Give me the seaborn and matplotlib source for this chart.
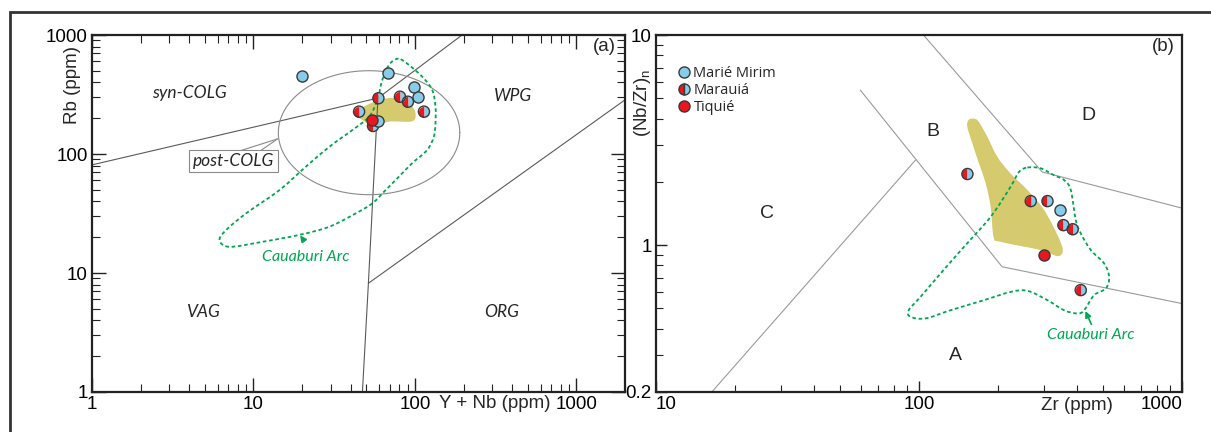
import numpy as np
import matplotlib
matplotlib.use("Agg")
import matplotlib.pyplot as plt
import seaborn as sns
from matplotlib.path import Path
from matplotlib.patches import PathPatch, Rectangle
from matplotlib.lines import Line2D
from matplotlib.ticker import FixedLocator, LogLocator, NullFormatter, FuncFormatter

# ---------------- Panel (a): Rb vs Y+Nb ----------------
a_marie_ynb = [20.0, 68.4, 98.6, 105.0, 59.4]
a_marie_rb = [455, 479, 366, 303, 190]
a_marauia_ynb = [59.4, 80.8, 90.5, 113.7, 45.1, 55.0]
a_marauia_rb = [294, 303, 275, 227, 227, 172]
a_tiquie_ynb = [54.0]
a_tiquie_rb = [193]

# Cauaburi Arc field (outline)
a_arc_ynb = [81.6, 91.8, 111, 128, 134, 134, 131, 119, 96, 79.6, 65.9, 54.5, 43.0, 29.5,
             19.2, 11.4, 7.1, 6.17, 6.78, 9.0, 14.5, 21.1, 29.5, 41.0, 52.0, 58.5, 62.8, 69.1, 76.0]
a_arc_rb = [625, 560, 446, 345, 250, 181, 140, 108, 83.5, 64.5, 49.8, 38.5, 31.7, 24.5,
            20.9, 18.3, 16.6, 18.9, 23.0, 31.7, 49.8, 78.2, 115, 159, 206, 284, 419, 560, 625]
# khaki reference field
a_field_ynb = [43.0, 46.2, 60, 76, 96.2, 101, 94, 69, 55.8, 47.3]
a_field_rb = [213, 242, 284, 294, 250, 206, 187, 187, 170, 193]

# discrimination boundaries
a_b1_ynb = [1, 59, 196]
a_b1_rb = [81, 295, 1000]
a_b2_ynb = [59, 51.5, 47.3]
a_b2_rb = [295, 8.2, 1]
a_b3_ynb = [51.5, 2000]
a_b3_rb = [8.2, 285]
post_colg_center = (52, 151)
post_colg_half_decades = (0.562, 0.521)
a_callout_ynb = [[8.2, 14.1], [11.0, 14.1]]
a_callout_rb = [[106, 134], [106, 134]]

a_labels = ["syn-COLG", "WPG", "VAG", "ORG"]
a_label_ynb = [4.03, 408, 4.84, 344]
a_label_rb = [326, 307, 4.73, 4.73]

# ---------------- Panel (b): (Nb/Zr)n vs Zr ----------------
b_marie_zr = [344]
b_marie_nbzr = [1.47]
b_marauia_zr = [152.8, 266, 308, 354, 384, 412]
b_marauia_nbzr = [2.18, 1.62, 1.62, 1.245, 1.19, 0.611]
b_tiquie_zr = [299]
b_tiquie_nbzr = [0.896]

b_arc_zr = [258.3, 290.4, 326.2, 356.1, 377.7, 394.6, 412.3, 450.1, 505.8, 528.4, 513.4, 463.4,
            424.5, 400.6, 356.1, 307.9, 258.3, 223.2, 176.6, 131.8, 105.9, 92.8, 91.4, 101.3,
            120.8, 148.2, 187.3, 223.2, 240.0]
b_arc_nbzr = [2.34, 2.32, 2.15, 2.04, 1.83, 1.315, 1.137, 0.947, 0.818, 0.706, 0.622, 0.578,
              0.490, 0.473, 0.490, 0.547, 0.606, 0.599, 0.547, 0.490, 0.448, 0.456, 0.490, 0.567,
              0.733, 0.981, 1.364, 1.90, 2.23]
b_field_zr = [152.6, 154.4, 161.3, 168.5, 181.9, 198.6, 223.2, 258.3, 298.8, 336.1, 352.1,
              337.0, 290.4, 204.4, 192.2, 187.3, 179.2, 169.0, 159.5]
b_field_nbzr = [3.66, 3.94, 4.00, 3.87, 3.28, 2.63, 2.19, 1.83, 1.47, 1.116, 0.947,
                0.886, 0.947, 1.037, 1.092, 1.52, 1.97, 2.45, 3.05]

b_l1_zr = [104, 294, 1000]
b_l1_nbzr = [10, 2.23, 1.50]
b_l2_zr = [59.8, 207, 1000]
b_l2_nbzr = [5.47, 0.789, 0.527]
b_l3_zr = [16.3, 97]
b_l3_nbzr = [0.2, 2.54]

b_labels = ["A", "B", "C", "D"]
b_label_zr = [137.7, 113.2, 26.4, 439.6]
b_label_nbzr = [0.299, 3.46, 1.42, 4.16]

legend_labels = ["Marié Mirim", "Marauiá", "Tiquié"]

# ---------------- style ----------------
BLUE = "#87cdea"
RED = "#e8161e"
EDGE = "#3a3a3a"
GREEN = "#00a651"
KHAKI = "#d5ca6e"
SPINE = "#222222"

sns.set_theme(style="ticks")
plt.rcParams["font.family"] = ["Liberation Sans", "DejaVu Sans"]
plt.rcParams["axes.edgecolor"] = SPINE
plt.rcParams["axes.linewidth"] = 1.6
plt.rcParams["xtick.color"] = SPINE
plt.rcParams["ytick.color"] = SPINE
plt.rcParams["xtick.labelcolor"] = "black"
plt.rcParams["ytick.labelcolor"] = "black"

fig = plt.figure(figsize=(12.11, 4.32), dpi=100)
W, H = 1211, 432
axA = fig.add_axes([92 / W, 40 / H, 533 / W, 357 / H])
axB = fig.add_axes([656 / W, 40 / H, 526 / W, 357 / H])

theta_l = np.linspace(np.pi / 2, 3 * np.pi / 2, 40)
LEFT_HALF = Path(np.vstack([np.column_stack([np.cos(theta_l), np.sin(theta_l)]), [[0, 1]]]), closed=True)
theta_r = np.linspace(-np.pi / 2, np.pi / 2, 40)
RIGHT_HALF = Path(np.vstack([np.column_stack([np.cos(theta_r), np.sin(theta_r)]), [[0, -1]]]), closed=True)
S = 64


def smooth_closed_path(xs, ys):
    P = np.column_stack([np.log10(np.asarray(xs, float)), np.log10(np.asarray(ys, float))])
    n = len(P)
    verts = [P[0]]
    codes = [Path.MOVETO]
    for i in range(n):
        p0, p1, p2, p3 = P[i - 1], P[i], P[(i + 1) % n], P[(i + 2) % n]
        c1 = p1 + (p2 - p0) / 6.0
        c2 = p2 - (p3 - p1) / 6.0
        verts += [c1, c2, p2]
        codes += [Path.CURVE4] * 3
    return Path(10 ** np.array(verts), codes)


def draw_points(ax, mx, my, hx, hy, tx, ty):
    sns.scatterplot(x=hx, y=hy, ax=ax, marker=LEFT_HALF, color=RED, s=S, linewidth=0, zorder=5)
    sns.scatterplot(x=hx, y=hy, ax=ax, marker=RIGHT_HALF, color=BLUE, s=S, linewidth=0, zorder=5)
    sns.scatterplot(x=hx, y=hy, ax=ax, marker="o", color="none", edgecolor=EDGE, s=S, linewidth=1.0, zorder=5)
    sns.scatterplot(x=mx, y=my, ax=ax, marker="o", color=BLUE, edgecolor=EDGE, s=S, linewidth=1.0, zorder=5)
    sns.scatterplot(x=tx, y=ty, ax=ax, marker="o", color=RED, edgecolor=EDGE, s=S, linewidth=1.0, zorder=5)


def fmt(v, p):
    return f"{v:g}"


# ---------------- Panel (a) ----------------
ax = axA
ax.set_xscale("log")
ax.set_yscale("log")
ax.set_xlim(1, 2000)
ax.set_ylim(1, 1000)

for bx, by in [(a_b1_ynb, a_b1_rb), (a_b2_ynb, a_b2_rb), (a_b3_ynb, a_b3_rb)]:
    sns.lineplot(x=bx, y=by, ax=ax, sort=False, estimator=None, color="#5a5a5a", lw=0.8, zorder=2.5)
t = np.linspace(0, 2 * np.pi, 240)
ex = 10 ** (np.log10(post_colg_center[0]) + post_colg_half_decades[0] * np.cos(t))
ey = 10 ** (np.log10(post_colg_center[1]) + post_colg_half_decades[1] * np.sin(t))
sns.lineplot(x=ex, y=ey, ax=ax, sort=False, estimator=None, color="#8a8a8a", lw=0.8, zorder=2.5)
for cx, cy in zip(a_callout_ynb, a_callout_rb):
    sns.lineplot(x=cx, y=cy, ax=ax, sort=False, estimator=None, color="#8a8a8a", lw=0.8, zorder=2.5)

ax.add_patch(PathPatch(smooth_closed_path(a_field_ynb, a_field_rb), fc=KHAKI, ec="none", zorder=2))
ax.add_patch(PathPatch(smooth_closed_path(a_arc_ynb, a_arc_rb), fill=False, ec=GREEN, lw=1.3,
                       ls=(0, (2.0, 1.5)), zorder=3))
draw_points(ax, a_marie_ynb, a_marie_rb, a_marauia_ynb, a_marauia_rb, a_tiquie_ynb, a_tiquie_rb)

for lab, x, y in zip(a_labels, a_label_ynb, a_label_rb):
    ax.text(x, y, lab, ha="center", va="center", fontsize=12.5, style="italic", family=["Lato", "DejaVu Sans"])
ax.text(7.53, 87.3, "post-COLG", ha="center", va="center", fontsize=12.5, style="italic",
        family=["Lato", "DejaVu Sans"],
        bbox=dict(boxstyle="square,pad=0.2", fc="white", ec="#8a8a8a", lw=0.8), zorder=4)
ax.text(21.1, 13.7, "Cauaburi Arc", ha="center", va="center", fontsize=11.5, style="italic",
        color=GREEN, family=["Lato", "DejaVu Sans"])
ax.annotate("", xy=(19.0, 21.6), xytext=(21.1, 17.8),
            arrowprops=dict(arrowstyle="-|>", color=GREEN, lw=1.2, mutation_scale=9))
ax.text(0.962, 0.967, "(a)", transform=ax.transAxes, ha="center", va="center", fontsize=13.5)

ax.xaxis.set_major_locator(FixedLocator([1, 10, 100, 1000]))
ax.yaxis.set_major_locator(FixedLocator([1, 10, 100, 1000]))
for axis in (ax.xaxis, ax.yaxis):
    axis.set_minor_locator(LogLocator(base=10, subs=np.arange(2, 10), numticks=30))
    axis.set_major_formatter(FuncFormatter(fmt))
    axis.set_minor_formatter(NullFormatter())
ax.tick_params(which="both", direction="in", top=True, right=True, labelsize=13.5, pad=3)
ax.tick_params(which="major", length=10, width=1.0)
ax.tick_params(which="minor", length=6, width=0.8)
ax.set_xlabel("Y + Nb (ppm)", fontsize=13.5)
ax.xaxis.set_label_coords(0.756, -0.008)
ax.set_ylabel("Rb (ppm)", fontsize=13.5)
ax.yaxis.set_label_coords(-0.020, 0.86)

# ---------------- Panel (b) ----------------
ax = axB
ax.set_xscale("log")
ax.set_yscale("log")
ax.set_xlim(10, 1000)
ax.set_ylim(0.2, 10)

for bx, by in [(b_l1_zr, b_l1_nbzr), (b_l2_zr, b_l2_nbzr), (b_l3_zr, b_l3_nbzr)]:
    sns.lineplot(x=bx, y=by, ax=ax, sort=False, estimator=None, color="#9a9a9a", lw=0.8, zorder=1.5)
ax.add_patch(PathPatch(smooth_closed_path(b_field_zr, b_field_nbzr), fc=KHAKI, ec="none", zorder=2))
ax.add_patch(PathPatch(smooth_closed_path(b_arc_zr, b_arc_nbzr), fill=False, ec=GREEN, lw=1.3,
                       ls=(0, (2.0, 1.5)), zorder=3))
draw_points(ax, b_marie_zr, b_marie_nbzr, b_marauia_zr, b_marauia_nbzr, b_tiquie_zr, b_tiquie_nbzr)

for lab, x, y in zip(b_labels, b_label_zr, b_label_nbzr):
    ax.text(x, y, lab, ha="center", va="center", fontsize=14)
ax.text(449.7, 0.373, "Cauaburi Arc", ha="center", va="center", fontsize=11.5, style="italic",
        color=GREEN, family=["Lato", "DejaVu Sans"])
ax.annotate("", xy=(424.9, 0.499), xytext=(457, 0.408),
            arrowprops=dict(arrowstyle="-|>", color=GREEN, lw=1.2, mutation_scale=9))
ax.text(0.964, 0.969, "(b)", transform=ax.transAxes, ha="center", va="center", fontsize=13.5)

ax.xaxis.set_major_locator(FixedLocator([10, 100, 1000]))
ax.yaxis.set_major_locator(FixedLocator([0.2, 1, 10]))
for axis in (ax.xaxis, ax.yaxis):
    axis.set_minor_locator(LogLocator(base=10, subs=np.arange(2, 10), numticks=30))
    axis.set_major_formatter(FuncFormatter(fmt))
    axis.set_minor_formatter(NullFormatter())
ax.tick_params(which="both", direction="in", top=False, right=False, labelsize=13.5, pad=3)
ax.tick_params(which="major", length=8, width=1.0)
ax.tick_params(which="minor", length=5, width=0.8)
ax.set_xlabel("Zr (ppm)", fontsize=13.5)
ax.xaxis.set_label_coords(0.80, -0.015)
ax.set_ylabel(r"(Nb/Zr)$_\mathregular{n}$", fontsize=13.5)
ax.yaxis.set_label_coords(-0.006, 0.81)
fig.canvas.draw()
xt = ax.get_xticklabels()
xt[0].set_horizontalalignment("left")
xt[-1].set_horizontalalignment("right")

handles = [
    Line2D([], [], marker="o", ls="none", markerfacecolor=BLUE, markeredgecolor=EDGE, markersize=8, markeredgewidth=1.0),
    Line2D([], [], marker="o", ls="none", markerfacecolor=RED, markerfacecoloralt=BLUE, fillstyle="left",
           markeredgecolor=EDGE, markersize=8, markeredgewidth=1.0),
    Line2D([], [], marker="o", ls="none", markerfacecolor=RED, markeredgecolor=EDGE, markersize=8, markeredgewidth=1.0),
]
ax.legend(handles, legend_labels, loc="upper left", bbox_to_anchor=(0.042, 0.912), frameon=False,
          handlelength=0.8, handletextpad=0.25, labelspacing=0.14, borderaxespad=0, borderpad=0,
          prop={"family": "Open Sans", "size": 10.5})

fig.add_artist(Rectangle((10 / W, -0.05), 1.2, (420 / H) + 0.05, transform=fig.transFigure,
                         fill=False, lw=2.0, ec="#333333"))

fig.savefig("out.png", dpi=100)
